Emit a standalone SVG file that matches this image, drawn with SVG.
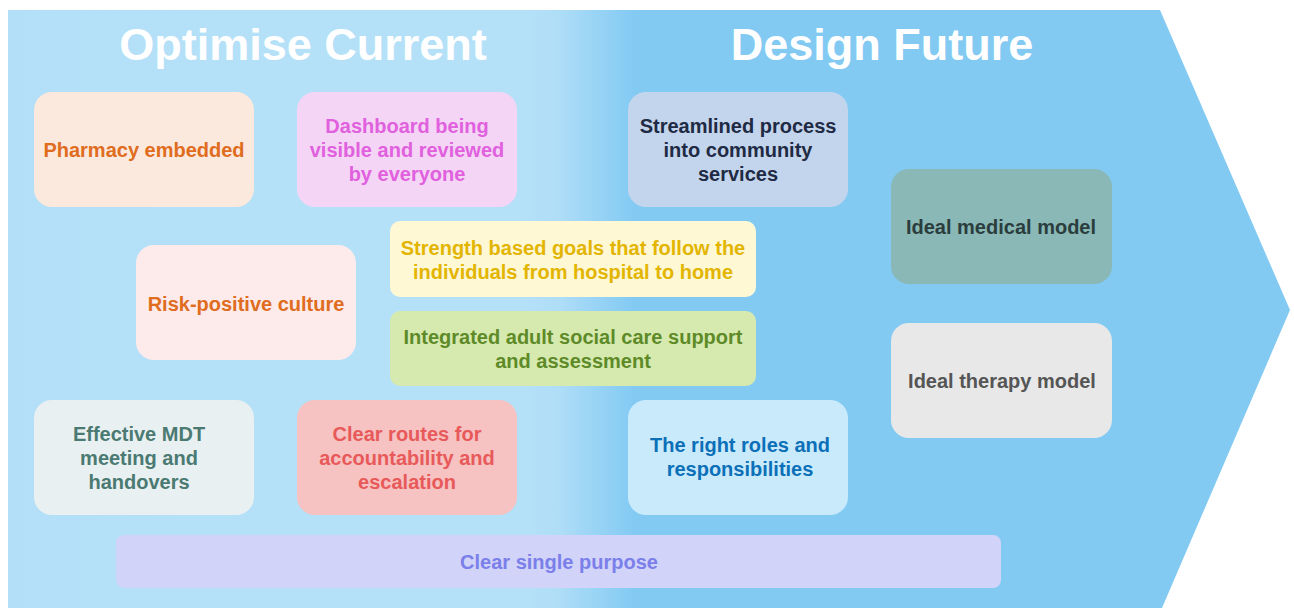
<svg xmlns="http://www.w3.org/2000/svg" width="1294" height="608" viewBox="0 0 1294 608">
<defs>
<linearGradient id="bg" gradientUnits="userSpaceOnUse" x1="0" y1="0" x2="1294" y2="0">
<stop offset="0" stop-color="#B3E0F8"/>
<stop offset="0.40" stop-color="#B5E1F8"/>
<stop offset="0.43" stop-color="#B0DEF7"/>
<stop offset="0.49" stop-color="#83CAF3"/>
<stop offset="1" stop-color="#83CAF3"/>
</linearGradient>
</defs>
<style>
text{font-family:"Liberation Sans",Arial,sans-serif;font-weight:bold;text-anchor:middle}
.t{font-size:20px}
.h{font-size:45px;fill:#FFFFFF}
</style>
<rect width="1294" height="608" fill="#FFFFFF"/>
<polygon points="8,10 1160,10 1290,310 1162,608 8,608" fill="url(#bg)"/>
<text class="h" x="303" y="60">Optimise Current</text>
<text class="h" x="882" y="60">Design Future</text>
<g id="pharmacy"><rect x="34" y="92" width="220" height="115" rx="18" fill="#FBE9DE"/><text class="t" x="144" y="157" fill="#E06C1E">Pharmacy embedded</text></g>
<g id="dashboard"><rect x="297" y="92" width="220" height="115" rx="18" fill="#F5D5F5"/><text class="t" x="407" fill="#E060DE"><tspan x="407" y="133">Dashboard being</tspan><tspan x="407" y="157">visible and reviewed</tspan><tspan x="407" y="181">by everyone</tspan></text></g>
<g id="streamlined"><rect x="628" y="92" width="220" height="115" rx="18" fill="#C3D5EC"/><text class="t" x="738" fill="#1F2A44"><tspan x="738" y="133">Streamlined process</tspan><tspan x="738" y="157">into community</tspan><tspan x="738" y="181">services</tspan></text></g>
<g id="medical"><rect x="891" y="169" width="221" height="115" rx="18" fill="#89B8B6"/><text class="t" x="1001" y="234" fill="#2B3D3D">Ideal medical model</text></g>
<g id="risk"><rect x="136" y="245" width="220" height="115" rx="18" fill="#FCEBEA"/><text class="t" x="246" y="311" fill="#E06C1E">Risk-positive culture</text></g>
<g id="strength"><rect x="390" y="221" width="366" height="76" rx="10" fill="#FEF8D5"/><text class="t" x="573" fill="#E3B500"><tspan x="573" y="255">Strength based goals that follow the</tspan><tspan x="573" y="279">individuals from hospital to home</tspan></text></g>
<g id="integrated"><rect x="390" y="311" width="366" height="75" rx="10" fill="#D6EAB0"/><text class="t" x="573" fill="#5E8A28"><tspan x="573" y="344">Integrated adult social care support</tspan><tspan x="573" y="368">and assessment</tspan></text></g>
<g id="mdt"><rect x="34" y="400" width="220" height="115" rx="18" fill="#E9F0F1"/><text class="t" x="139" fill="#4A7A72"><tspan x="139" y="441">Effective MDT</tspan><tspan x="139" y="465">meeting and</tspan><tspan x="139" y="489">handovers</tspan></text></g>
<g id="routes"><rect x="297" y="400" width="220" height="115" rx="18" fill="#F6C2C2"/><text class="t" x="407" fill="#E85A5A"><tspan x="407" y="441">Clear routes for</tspan><tspan x="407" y="465">accountability and</tspan><tspan x="407" y="489">escalation</tspan></text></g>
<g id="roles"><rect x="628" y="400" width="220" height="115" rx="18" fill="#C9EAFB"/><text class="t" x="740" fill="#0B70B8"><tspan x="740" y="452">The right roles and</tspan><tspan x="740" y="476">responsibilities</tspan></text></g>
<g id="therapy"><rect x="891" y="323" width="221" height="115" rx="18" fill="#E8E8E8"/><text class="t" x="1002" y="388" fill="#555555">Ideal therapy model</text></g>
<g id="purpose"><rect x="116" y="535" width="885" height="53" rx="8" fill="#D1D3F8"/><text class="t" x="559" y="569" fill="#7B7FEA">Clear single purpose</text></g>
<g id="connectors"></g>
</svg>
